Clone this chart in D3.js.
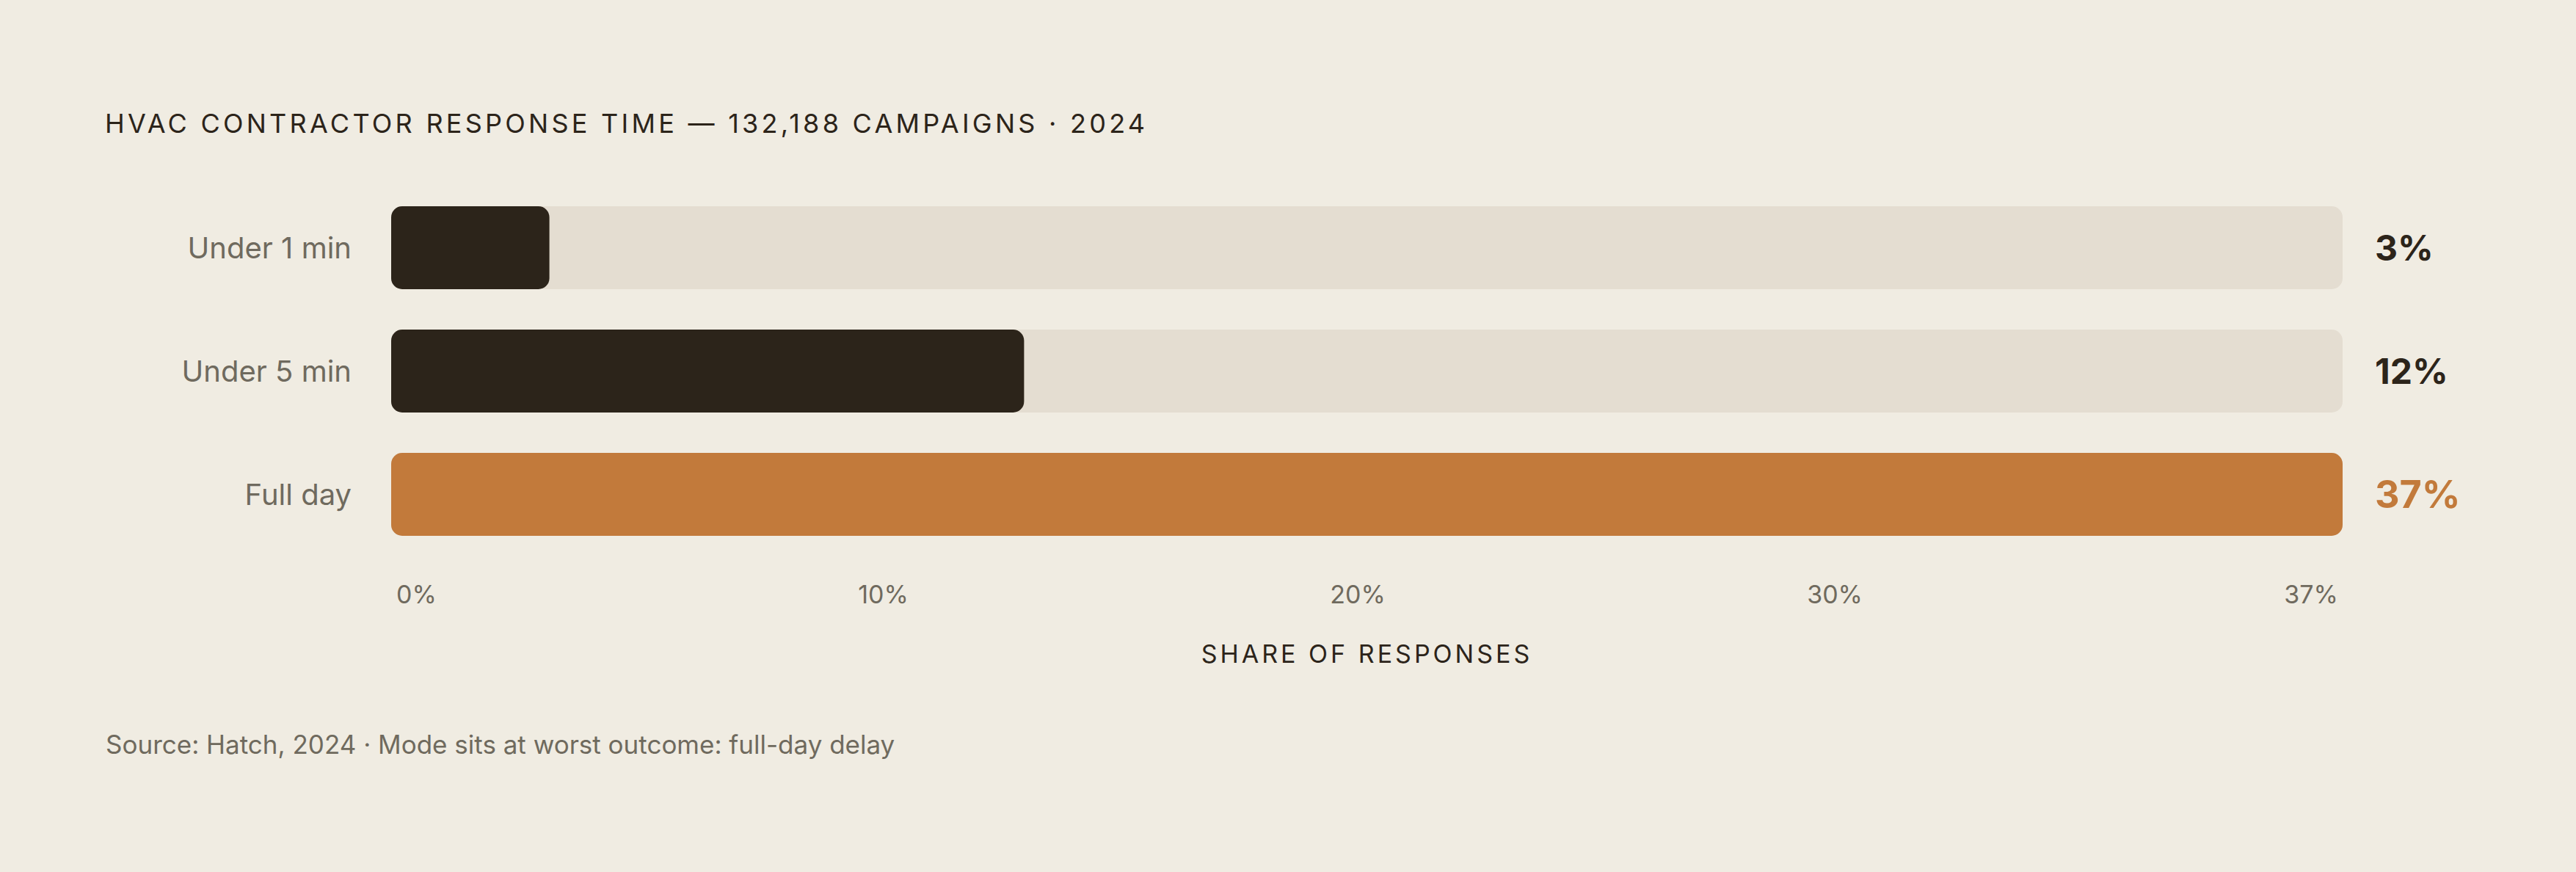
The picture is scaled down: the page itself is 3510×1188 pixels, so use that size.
<!DOCTYPE html>
<html>
<head>
<meta charset="utf-8">
<script src="https://cdn.jsdelivr.net/npm/d3@7"></script>
<style>
  html, body { margin: 0; padding: 0; background: #f0ece2; }
  svg { display: block; font-family: "Inter", "DejaVu Sans", sans-serif; }
</style>
</head>
<body>
<svg id="chart" width="3510" height="1188"></svg>
<script>
const categories = ["Under 1 min", "Under 5 min", "Full day"];
const shares = [3, 12, 37];
const highlight = ["Full day"];
const tickLabels = ["0%", "10%", "20%", "30%", "37%"];
const titleText = "HVAC CONTRACTOR RESPONSE TIME — 132,188 CAMPAIGNS · 2024";
const axisTitle = "SHARE OF RESPONSES";
const sourceText = "Source: Hatch, 2024 · Mode sits at worst outcome: full-day delay";

const svg = d3.select("#chart"),
  margin = { top: 281, left: 533, right: 318 },
  width = +svg.attr("width") - margin.left - margin.right;

const ink = "#2c241a", muted = "#6f6a5e", track = "#e4ddd1", accent = "#c27a3b";

svg.append("rect")
  .attr("width", 3510).attr("height", 1188)
  .attr("fill", "#f0ece2");

// title
svg.append("text")
  .attr("x", 143).attr("y", 181)
  .attr("fill", ink)
  .style("font-size", "36px")
  .style("letter-spacing", "4.25px")
  .text(titleText);

const g = svg.append("g")
  .attr("transform", `translate(${margin.left},${margin.top})`);

const x = d3.scaleLinear()
  .domain([0, d3.max(shares)])
  .range([0, width]);

// 113px bars on a 168px step
const y = d3.scaleBand()
  .domain(categories)
  .range([0, 168 * categories.length - 55])
  .paddingInner(55 / 168)
  .paddingOuter(0);

const data = categories.map((c, i) => ({ cat: c, v: shares[i] }));

// tracks
g.selectAll(".track")
  .data(data)
  .join("rect")
  .attr("class", "track")
  .attr("x", 0)
  .attr("y", d => y(d.cat))
  .attr("width", x.range()[1])
  .attr("height", y.bandwidth())
  .attr("rx", 15)
  .attr("fill", track);

// bars
g.selectAll(".bar")
  .data(data)
  .join("rect")
  .attr("class", "bar")
  .attr("x", 0)
  .attr("y", d => y(d.cat))
  .attr("width", d => x(d.v))
  .attr("height", y.bandwidth())
  .attr("rx", 15)
  .attr("fill", d => highlight.includes(d.cat) ? accent : ink);

// category labels
g.selectAll(".cat-label")
  .data(data)
  .join("text")
  .attr("class", "cat-label")
  .attr("x", -54)
  .attr("y", d => y(d.cat) + y.bandwidth() / 2)
  .attr("dy", "0.35em")
  .attr("text-anchor", "end")
  .attr("fill", muted)
  .style("font-size", "40px")
  .text(d => d.cat);

// value labels
g.selectAll(".val-label")
  .data(data)
  .join("text")
  .attr("class", "val-label")
  .attr("x", width + 44)
  .attr("y", d => y(d.cat) + y.bandwidth() / 2)
  .attr("dy", "0.36em")
  .attr("fill", d => highlight.includes(d.cat) ? accent : ink)
  .style("font-size", d => highlight.includes(d.cat) ? "52px" : "48px")
  .style("font-weight", 700)
  .text(d => d.v + "%");

// tick labels, spread edge to edge with equal gaps
const axisY = y.range()[1] + 92;
const ticks = g.append("g").attr("class", "ticks")
  .attr("transform", `translate(0,${axisY})`);

const tickText = ticks.selectAll("text")
  .data(tickLabels)
  .join("text")
  .attr("fill", muted)
  .style("font-size", "34px")
  .text(d => d);

const widths = [];
tickText.each(function () { widths.push(this.getComputedTextLength()); });
const span = [x.range()[0] + 7, x.range()[1] - 6];
const gap = (span[1] - span[0] - d3.sum(widths)) / (tickLabels.length - 1);
let cursor = span[0];
tickText.attr("x", (d, i) => {
  const pos = cursor;
  cursor += widths[i] + gap;
  return pos;
});

// axis title
g.append("text")
  .attr("x", width / 2)
  .attr("y", axisY + 81)
  .attr("text-anchor", "middle")
  .attr("fill", ink)
  .style("font-size", "34px")
  .style("letter-spacing", "4px")
  .text(axisTitle);

// source
svg.append("text")
  .attr("x", 144).attr("y", 1027)
  .attr("fill", muted)
  .style("font-size", "35px")
  .text(sourceText);
</script>
</body>
</html>
